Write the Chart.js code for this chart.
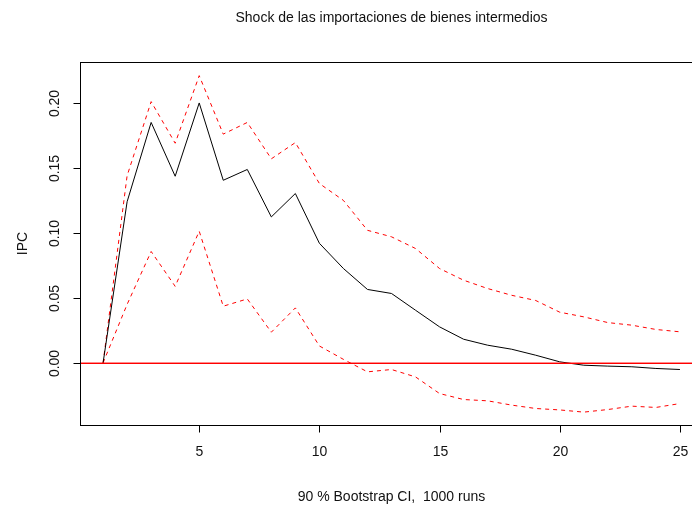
<!DOCTYPE html>
<html>
<head>
<meta charset="utf-8">
<script src="https://cdn.jsdelivr.net/npm/chart.js@4.4.0/dist/chart.umd.min.js"></script>
<style>
    html, body { margin: 0; padding: 0; background: #fff; overflow: hidden; }
    #wrap { width: 692px; height: 514px; overflow: hidden; }
    canvas { display: block; }
</style>
</head>
<body>
<div id="wrap"><canvas id="irfChart" width="720" height="514"></canvas></div>
<script>
// Impulse response horizon (periods)
const horizon = [1, 2, 3, 4, 5, 6, 7, 8, 9, 10, 11, 12, 13, 14, 15, 16, 17, 18, 19, 20, 21, 22, 23, 24, 25];

// Response of IPC (point estimate)
const irf = [0, 0.124, 0.185, 0.1436, 0.200, 0.1405, 0.1488, 0.1123, 0.1303, 0.0920,
    0.0726, 0.0565, 0.0534, 0.0405, 0.0277, 0.0182, 0.0136, 0.0105, 0.0059, 0.0008,
    -0.0018, -0.0025, -0.0030, -0.0043, -0.0051];

// 90% bootstrap band
const upper = [0, 0.144, 0.201, 0.169, 0.221, 0.176, 0.185, 0.157, 0.1695, 0.138,
    0.125, 0.102, 0.097, 0.088, 0.0726, 0.0636, 0.0572, 0.052, 0.048, 0.039,
    0.0354, 0.031, 0.029, 0.0257, 0.0239];
const lower = [0, 0.045, 0.0857, 0.0589, 0.1013, 0.0436, 0.0492, 0.0236, 0.0423, 0.0130,
    0.0027, -0.0069, -0.0051, -0.0108, -0.0236, -0.0282, -0.0292, -0.0325, -0.0351, -0.0362,
    -0.0379, -0.0359, -0.0333, -0.0343, -0.0313];

// Axis ticks
const xTicks = [5, 10, 15, 20, 25];
const yTicks = [0, 0.05, 0.10, 0.15, 0.20];
const yTickLabels = ['0.00', '0.05', '0.10', '0.15', '0.20'];

// Horizontal reference line (abline h = 0)
const refLine = [0];

const chartTitle = 'Shock de las importaciones de bienes intermedios';
const xTitle = '90 % Bootstrap CI,  1000 runs';
const yTitle = 'IPC';

const FONT = '14px "Liberation Sans", Arial, sans-serif';

function toPoints(values) {
    return horizon.map((h, i) => ({ x: h, y: values[i] }));
}

/**
 * R-style box, axes, reference line and titles
 */
const rAxesPlugin = {
    id: 'rAxes',
    afterDatasetsDraw(chart) {
        const ctx = chart.ctx;
        const area = chart.chartArea;
        const y = chart.scales.y;
        ctx.save();
        refLine.forEach(v => {
            const py = Math.round(y.getPixelForValue(v));
            // slightly soft red line, like the anti-aliased R output
            ctx.fillStyle = 'rgba(255, 0, 0, 0.45)';
            ctx.fillRect(area.left, py - 1, area.right - area.left, 1);
            ctx.fillStyle = 'rgba(255, 0, 0, 1)';
            ctx.fillRect(area.left, py, area.right - area.left, 1);
        });
        ctx.restore();
    },
    afterDraw(chart) {
        const ctx = chart.ctx;
        const area = chart.chartArea;
        const x = chart.scales.x;
        const y = chart.scales.y;
        const tick = 7;

        const l = Math.round(area.left) + 0.5;
        const t = Math.round(area.top) + 0.5;
        const b = Math.round(area.bottom) + 0.5;
        const r = Math.round(area.right) + 0.5;

        ctx.save();
        ctx.setLineDash([]);
        ctx.lineWidth = 1;
        ctx.strokeStyle = '#000';
        ctx.fillStyle = '#111';

        // box
        ctx.strokeRect(l, t, r - l, b - t);

        ctx.font = FONT;

        // x axis
        ctx.textAlign = 'center';
        ctx.textBaseline = 'middle';
        xTicks.forEach(v => {
            const px = Math.round(x.getPixelForValue(v)) + 0.5;
            ctx.beginPath();
            ctx.moveTo(px, b);
            ctx.lineTo(px, b + tick);
            ctx.stroke();
            ctx.fillText(String(v), px, b + 27);
        });

        // y axis
        yTicks.forEach((v, i) => {
            const py = Math.round(y.getPixelForValue(v)) + 0.5;
            ctx.beginPath();
            ctx.moveTo(l, py);
            ctx.lineTo(l - tick, py);
            ctx.stroke();
            ctx.save();
            ctx.translate(l - 25, py);
            ctx.rotate(-Math.PI / 2);
            ctx.fillText(yTickLabels[i], 0, 0);
            ctx.restore();
        });

        // titles
        const cx = (area.left + area.right) / 2;
        const cy = (area.top + area.bottom) / 2;
        ctx.fillText(chartTitle, cx, 18);
        ctx.fillText(xTitle, cx, 497);
        ctx.save();
        ctx.translate(23, cy);
        ctx.rotate(-Math.PI / 2);
        ctx.fillText(yTitle, 0, 0);
        ctx.restore();

        ctx.restore();
    }
};

document.addEventListener('DOMContentLoaded', function() {
    const el = document.getElementById('irfChart');
    new Chart(el, {
        type: 'line',
        data: {
            datasets: [
                {
                    label: 'IRF',
                    data: toPoints(irf),
                    borderColor: '#000000',
                    borderWidth: 1,
                    pointRadius: 0,
                    tension: 0,
                    fill: false
                },
                {
                    label: 'Upper',
                    data: toPoints(upper),
                    borderColor: '#ff0000',
                    borderWidth: 1,
                    borderDash: [4, 4],
                    pointRadius: 0,
                    tension: 0,
                    fill: false
                },
                {
                    label: 'Lower',
                    data: toPoints(lower),
                    borderColor: '#ff0000',
                    borderWidth: 1,
                    borderDash: [4, 4],
                    pointRadius: 0,
                    tension: 0,
                    fill: false
                }
            ]
        },
        options: {
            responsive: false,
            animation: false,
            devicePixelRatio: 1,
            layout: {
                padding: { left: 80, right: 17, top: 62, bottom: 89 }
            },
            plugins: {
                legend: { display: false },
                tooltip: { enabled: false }
            },
            scales: {
                x: { type: 'linear', min: 0.04, max: 25.96, display: false },
                y: { type: 'linear', min: -0.0478, max: 0.2315, display: false }
            }
        },
        plugins: [rAxesPlugin]
    });
});
</script>
</body>
</html>
